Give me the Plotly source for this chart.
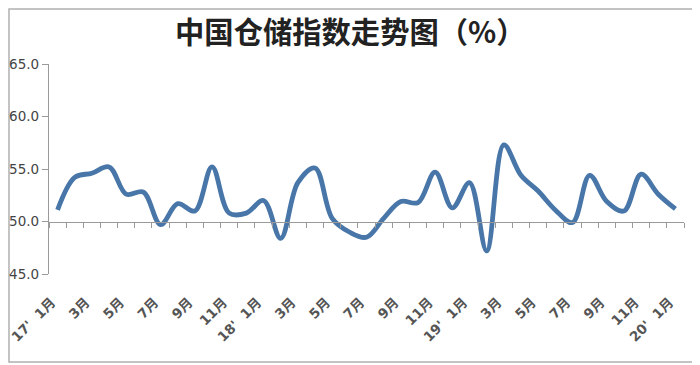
import plotly.graph_objects as go

# ---- data ----
month_labels = [
    "17'\u00a0\u00a01月", "2月", "3月", "4月", "5月", "6月", "7月", "8月", "9月", "10月", "11月", "12月",
    "18'\u00a0\u00a01月", "2月", "3月", "4月", "5月", "6月", "7月", "8月", "9月", "10月", "11月", "12月",
    "19'\u00a0\u00a01月", "2月", "3月", "4月", "5月", "6月", "7月", "8月", "9月", "10月", "11月", "12月",
    "20'\u00a0\u00a01月",
]
index_values = [
    51.1, 54.2, 54.6, 55.2, 52.6, 52.8, 49.7, 51.7, 51.0, 55.2, 50.8, 50.8,
    52.0, 48.4, 53.7, 55.1, 50.3, 49.0, 48.5, 50.3, 51.9, 51.8, 54.7, 51.3,
    53.7, 47.2, 57.3, 54.4, 52.9, 51.1, 49.9, 54.4, 51.9, 51.0, 54.5, 52.6,
    51.2,
]
title_text = "中国仓储指数走势图（%）"

LABEL_SHIFT = -0.35  # rotated labels sit slightly left of their category, as in the source

x_idx = list(range(len(month_labels)))
tick_vals = [v + LABEL_SHIFT for v in x_idx[::2]]
tick_text = month_labels[::2]
x_range = [-0.5, len(month_labels) - 0.5]

fig = go.Figure()
fig.add_trace(go.Scatter(
    x=x_idx, y=index_values, mode="lines",
    line=dict(color="#4876a8", width=4.8, shape="spline", smoothing=1.0),
    hoverinfo="x+y", showlegend=False,
))
# helper trace for the category axis drawn at 50
fig.add_trace(go.Scatter(
    x=x_idx, y=index_values, mode="lines", xaxis="x2",
    line=dict(width=0), opacity=0, hoverinfo="skip", showlegend=False,
))

font_family = "DejaVu Sans, Noto Sans CJK SC, sans-serif"

fig.update_layout(
    width=700, height=365,
    margin=dict(l=41, r=24, t=56, b=99, autoexpand=False),
    paper_bgcolor="white", plot_bgcolor="white",
    title=dict(
        text=title_text, x=0.489, xanchor="center", xref="container",
        y=0.932, yanchor="middle", yref="container", automargin=False,
        font=dict(family="Noto Sans CJK SC, sans-serif", size=29.3, color="#222222", weight="bold"),
    ),
    xaxis=dict(
        range=x_range, showline=False, showgrid=False, zeroline=False, automargin=False,
        tickmode="array", tickvals=tick_vals, ticktext=tick_text,
        tickangle=-45, ticks="", ticklabelstandoff=17, ticklabeloverflow="allow",
        tickfont=dict(family=font_family, size=13.5, color="#555555", weight="bold"),
    ),
    xaxis2=dict(
        range=x_range, overlaying="x", anchor="free", position=0.25, side="bottom",
        showline=True, linecolor="#9a9a9a", linewidth=1.3, automargin=False,
        showgrid=False, zeroline=False, showticklabels=False,
        ticks="outside", ticklen=5, tickcolor="#9a9a9a", tickwidth=1,
        tickmode="linear", tick0=0.5, dtick=1,
    ),
    yaxis=dict(
        range=[45, 65], dtick=5, tick0=45, tickformat=".1f", automargin=False,
        showline=True, linecolor="#9a9a9a", linewidth=1.3,
        ticks="outside", ticklen=6, tickcolor="#9a9a9a",
        showgrid=False, zeroline=False,
        tickfont=dict(family=font_family, size=13.5, color="#444444"),
    ),
    shapes=[dict(
        type="rect", xref="paper", yref="paper",
        x0=-0.063, x1=1.0195, y0=-0.419, y1=1.262,
        line=dict(color="#b0b0b0", width=1.5), fillcolor="rgba(0,0,0,0)", layer="below",
    )],
)

fig.write_html("out.html")
